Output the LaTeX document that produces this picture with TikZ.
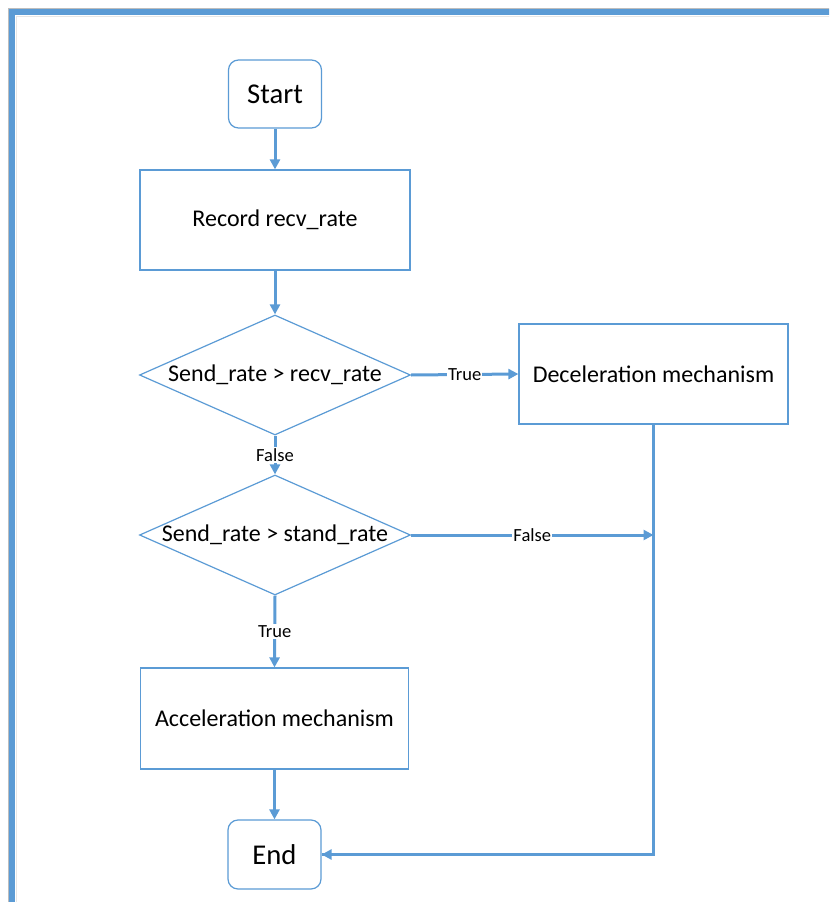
\documentclass[tikz,border=0pt]{standalone}
\usepackage{fontspec}
\setmainfont{Carlito}
\usetikzlibrary{shapes.geometric,arrows.meta}
\newcommand\pxu{0.75pt}
\definecolor{flowblue}{HTML}{5B9BD5}
\definecolor{rimgray}{HTML}{BDBDBD}
\definecolor{shadegray}{HTML}{E6E6E6}
\tikzset{
  box/.style={draw=flowblue, line width=0.9pt, fill=white, inner sep=0pt,
    font=\fontsize{18pt}{21pt}\selectfont, text=black},
  terminal/.style={box, rounded corners=7.5pt, font=\fontsize{21.5pt}{25pt}\selectfont},
  decision/.style={draw=flowblue, line width=0.9pt, fill=white, diamond, inner sep=0pt,
    minimum width=271*\pxu, minimum height=120*\pxu},
  dtext/.style={inner sep=0pt, font=\fontsize{18pt}{21pt}\selectfont, text=black},
  flow/.style={draw=flowblue, line width=2.25pt,
    -{Triangle[length=7.5pt,width=7.5pt]}},
  plainflow/.style={draw=flowblue, line width=2.25pt},
  edgelabel/.style={fill=white, inner sep=0.8pt, font=\fontsize{13.9pt}{16pt}\selectfont, text=black}
}
\begin{document}
\begin{tikzpicture}[x=0.75pt, y=-0.75pt]
  \useasboundingbox (0,0) rectangle (829,902);
  \clip (0,0) rectangle (829,902);

  % page frame, running past the right and bottom edges
  \draw[rimgray, line width=0.75pt] (8.5,8.5) rectangle (1000,1000);
  \draw[shadegray, line width=0.9pt] (16.5,16.5) rectangle (1000,1000);
  \draw[flowblue, line width=4.6pt] (12,12) rectangle (1000,1000);

  % nodes
  \node[terminal, minimum width=93*\pxu, minimum height=68*\pxu] (start) at (275,94) {Start};
  \node[box, minimum width=270*\pxu, minimum height=100*\pxu] (record) at (275,220) {Record recv\_rate};
  \node[decision] (d1) at (275,375) {};
  \node[dtext] (d1t) at (d1) {Send\_rate > recv\_rate};
  \node[box, minimum width=269*\pxu, minimum height=100*\pxu] (decel) at (653.5,374) {Deceleration mechanism};
  \node[decision] (d2) at (275,535) {};
  \node[dtext] (d2t) at (d2) {Send\_rate > stand\_rate};
  \node[box, minimum width=268*\pxu, minimum height=101*\pxu] (accel) at (274.5,718.5) {Acceleration mechanism};
  \node[terminal, minimum width=93*\pxu, minimum height=69*\pxu] (end) at (274.5,854.5) {End};

  % joints on the return line
  \coordinate (join) at (decel.south |- d2.east);
  \coordinate (corner) at (decel.south |- end.east);

  % connectors
  \draw[flow] (start) -- (record);
  \draw[flow] (record) -- (d1);
  \draw[flow] (d1.south) -- node[edgelabel] {False} (d2.north);
  \draw[flow] (d1.east) -- node[edgelabel] {True} (decel.west);
  \draw[flow] (d2.east) -- node[edgelabel] {False} (join);
  \draw[flow] (d2.south) -- node[edgelabel] {True} (accel.north);
  \draw[flow] (accel) -- (end);
  \draw[plainflow, line join=miter] (decel.south) -- (corner) -- (end.east);
  \draw[flow] (corner) -- (end.east);
\end{tikzpicture}
\end{document}
